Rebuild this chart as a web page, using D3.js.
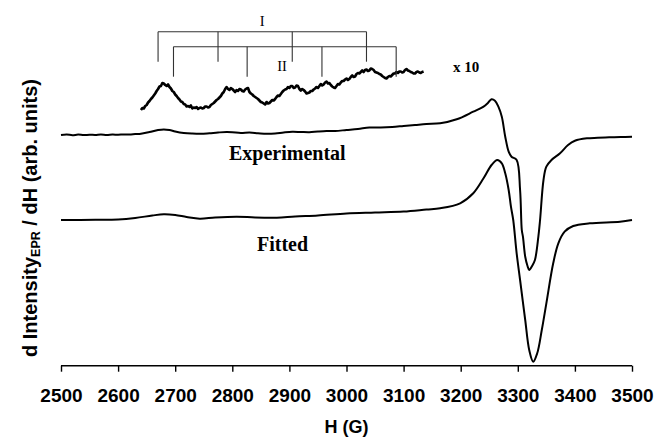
<!DOCTYPE html>
<html>
<head>
<meta charset="utf-8">
<script src="https://cdn.jsdelivr.net/npm/d3@7"></script>
<style>
  html, body { margin: 0; padding: 0; background: #fff; }
  svg { display: block; }
</style>
</head>
<body>
<svg id="chart" width="656" height="437"></svg>
<script>
// ---------------- DATA ----------------
// Field values (G) and derivative intensity (arb. units, relative to each trace's own baseline)
const expField = [2500,2510,2520,2530,2540,2550,2560,2570,2580,2590,2600,2610,2620,2630,2640,2655,2670,2680,2690,2700,2715,2730,2745,2760,2775,2790,2800,2815,2830,2845,2860,2875,2890,2905,2920,2935,2950,2965,2980,3000,3020,3040,3060,3080,3100,3120,3140,3164,3193,3222,3240,3248,3254,3260,3266,3272,3278,3284,3289,3298,3304,3307,3309,3313,3317,3320,3325,3330,3336,3339,3345,3350,3359,3374,3388,3400,3421,3440,3460,3480,3500];
const expValues = [0,0.5,-0.2,0.4,-0.1,0.3,0.1,0.5,0,0.4,0.3,0.6,0.5,0.9,1.2,3,5,5.6,5,3.5,2,1.4,1.2,1.8,2.5,3,2.8,2,2.5,1.8,1.2,1.5,2.5,3.2,3,2.8,3.5,4,4,5,6,7.5,7.5,8,9,10,11,11.7,15.7,23.3,28.3,32.3,35.7,34.3,28.3,18.3,-1.7,-16.7,-21.7,-25,-55,-95,-101.7,-121.7,-131,-135,-131,-125,-101.7,-85,-45,-31.7,-25,-18.3,-10,-5.7,-3.3,-2.8,-2.3,-2,-1.7];

const fitField = [2500,2560,2600,2630,2660,2680,2700,2720,2743,2770,2808,2840,2878,2910,2950,3000,3050,3100,3140,3164,3199,3222,3240,3254,3264,3272,3278,3284,3288,3292,3298,3304,3313,3320,3327,3334,3342,3350,3362,3371,3382,3397,3426,3479,3500];
const fitValues = [0,0.2,0.5,2,4.5,5.7,5,3,1.3,2.5,3.3,2.5,2.3,3.5,4.5,6.5,7.5,8.5,10.5,11.7,16.7,26.7,41.7,55,60,56.7,46.7,30,13.3,0,-33.3,-60,-100,-130,-141.7,-133.3,-110,-83.3,-43.3,-23.3,-11.7,-6,-3.3,-1.7,0];

// x10 magnified low-field part of the experimental spectrum (noisy)
const zoomField = [2640,2642.5,2645,2647.5,2650,2652.5,2655,2657.5,2660,2662.5,2665,2667.5,2670,2672.5,2675,2677.5,2680,2682.5,2685,2687.5,2690,2692.5,2695,2697.5,2700,2702.5,2705,2707.5,2710,2712.5,2715,2717.5,2720,2722.5,2725,2727.5,2730,2732.5,2735,2737.5,2740,2742.5,2745,2747.5,2750,2752.5,2755,2757.5,2760,2762.5,2765,2767.5,2770,2772.5,2775,2777.5,2780,2782.5,2785,2787.5,2790,2792.5,2795,2797.5,2800,2802.5,2805,2807.5,2810,2812.5,2815,2817.5,2820,2822.5,2825,2827.5,2830,2832.5,2835,2837.5,2840,2842.5,2845,2847.5,2850,2852.5,2855,2857.5,2860,2862.5,2865,2867.5,2870,2872.5,2875,2877.5,2880,2882.5,2885,2887.5,2890,2892.5,2895,2897.5,2900,2902.5,2905,2907.5,2910,2912.5,2915,2917.5,2920,2922.5,2925,2927.5,2930,2932.5,2935,2937.5,2940,2942.5,2945,2947.5,2950,2952.5,2955,2957.5,2960,2962.5,2965,2967.5,2970,2972.5,2975,2977.5,2980,2982.5,2985,2987.5,2990,2992.5,2995,2997.5,3000,3002.5,3005,3007.5,3010,3012.5,3015,3017.5,3020,3022.5,3025,3027.5,3030,3032.5,3035,3037.5,3040,3042.5,3045,3047.5,3050,3052.5,3055,3057.5,3060,3062.5,3065,3067.5,3070,3072.5,3075,3077.5,3080,3082.5,3085,3087.5,3090,3092.5,3095,3097.5,3100,3102.5,3105,3107.5,3110,3112.5,3115,3117.5,3120,3122.5,3125,3127.5,3130,3132.5,3135];
const zoomValues = [0,2,1.5,4,5,7.5,9,11,12.5,14.5,16.5,19,21,23.5,24,27,26.5,25,24,25.5,23,21.5,19,18,15.5,14,12,10.5,8.5,8,6,5.5,3.5,4,3,4.5,1.5,2.5,2,3,1,2,2.5,1.5,2,3.5,3.5,2.5,3,5,6,7,8.5,10,11,12.5,14,16.5,18,21,23,21,20,22,21,19.5,18,20,19,21,20.5,19,18.5,20.5,21.5,22,18,16.5,15.5,14,13,12,11,9.5,8,7.5,6.5,5.5,8,6.5,7,8.5,10,9.5,11,13,14.5,14,16,18,19.5,20.5,21,23,22,24,24,22,22.5,24.5,24,21,19.5,21,20,18.5,16.5,17,17.5,19,19,20.5,21.5,23,22,24,26,24.5,25.5,27.5,28.5,26.5,27,25,23.5,22.5,22,24,26,25.5,27.5,29,29,30.5,31.5,30,31,33,34.5,33,33.5,36,37,36.5,38,39.5,38,40,40.5,39,39.5,41.5,41,40,38,37.5,37,36,35.5,34,33,32,31.5,33,34,33.5,35,36.5,36.5,38,37,38.5,38.5,37.5,38,40,41,39.5,39,38,37.5,36.5,36.5,38,38.5,37.5,37,38,38.5];

// Hyperfine bracket positions (G)
const siteI = [2670, 2775, 2905, 3035];
const siteII = [2697, 2826, 2957, 3087];

const xTicks = [2500,2600,2700,2800,2900,3000,3100,3200,3300,3400,3500];

// Trace offsets (arb. units)
const expOffset = 130, fitOffset = 45, zoomOffset = 155;

// ---------------- DRAW ----------------
const svg = d3.select("#chart");
const x = d3.scaleLinear().domain([2500, 3500]).range([61, 632]);
const y = d3.scaleLinear().domain([-100, 265]).range([365, 0]);

// x axis
const axis = d3.axisBottom(x).tickValues(xTicks).tickSize(6).tickPadding(0).tickFormat(d3.format("d"));
const gx = svg.append("g").attr("transform", "translate(0,365.7)").call(axis);
gx.select(".domain").attr("stroke", "#000").attr("stroke-width", 1.4).attr("d", `M${x(2500)},0H${x(3500)}`);
gx.selectAll(".tick line").attr("stroke", "#000").attr("stroke-width", 1.4);
gx.selectAll(".tick text")
  .attr("y", 36).attr("dy", null)
  .attr("font-family", "'Liberation Sans', Arial, sans-serif")
  .attr("font-weight", "bold").attr("font-size", "19px").attr("fill", "#000");

svg.append("text")
  .attr("x", (x(2500) + x(3500)) / 2).attr("y", 433)
  .attr("text-anchor", "middle")
  .attr("font-family", "'Liberation Sans', Arial, sans-serif")
  .attr("font-weight", "bold").attr("font-size", "18px")
  .text("H (G)");

// y label
const yl = svg.append("text")
  .attr("transform", "translate(37,218) rotate(-90)")
  .attr("text-anchor", "middle")
  .attr("font-family", "'Liberation Sans', Arial, sans-serif")
  .attr("font-weight", "bold").attr("font-size", "20px");
yl.append("tspan").text("d Intensity");
yl.append("tspan").attr("font-size", "12.5px").attr("dy", 3).text("EPR");
yl.append("tspan").attr("dy", -3).text(" / dH (arb. units)");

// traces
function trace(fields, vals, off, sw, curve) {
  const pts = fields.map((f, i) => [x(f), y(vals[i] + off)]);
  svg.append("path")
    .attr("d", d3.line().curve(curve)(pts))
    .attr("fill", "none").attr("stroke", "#000")
    .attr("stroke-width", sw).attr("stroke-linejoin", "round");
}
trace(expField, expValues, expOffset, 2, d3.curveCatmullRom.alpha(0.5));
trace(fitField, fitValues, fitOffset, 2, d3.curveCatmullRom.alpha(0.5));
trace(zoomField, zoomValues, zoomOffset, 2.6, d3.curveLinear);

// brackets
function bracket(pos, yTop, yBot) {
  const g = svg.append("g").attr("stroke", "#333").attr("stroke-width", 1.1).attr("fill", "none");
  g.append("line").attr("x1", x(pos[0])).attr("x2", x(pos[pos.length - 1])).attr("y1", yTop).attr("y2", yTop);
  pos.forEach(p => g.append("line").attr("x1", x(p)).attr("x2", x(p)).attr("y1", yTop).attr("y2", yBot));
}
bracket(siteI, 31.7, 61.7);
bracket(siteII, 46.7, 76.7);

const serif = "'Liberation Serif', 'Times New Roman', serif";
svg.append("text").attr("x", x((siteI[0] + siteI[3]) / 2)).attr("y", 26)
  .attr("text-anchor", "middle").attr("font-family", serif).attr("font-size", "14.5px").text("I");
svg.append("text").attr("x", x(2887)).attr("y", 70.7)
  .attr("text-anchor", "middle").attr("font-family", serif).attr("font-size", "14.5px").text("II");
svg.append("text").attr("x", 453).attr("y", 72)
  .attr("font-family", serif).attr("font-weight", "bold").attr("font-size", "15px").text("x 10");
svg.append("text").attr("x", 229).attr("y", 160)
  .attr("font-family", serif).attr("font-weight", "bold").attr("font-size", "20px").text("Experimental");
svg.append("text").attr("x", 257).attr("y", 251)
  .attr("font-family", serif).attr("font-weight", "bold").attr("font-size", "20px").text("Fitted");
</script>
</body>
</html>
